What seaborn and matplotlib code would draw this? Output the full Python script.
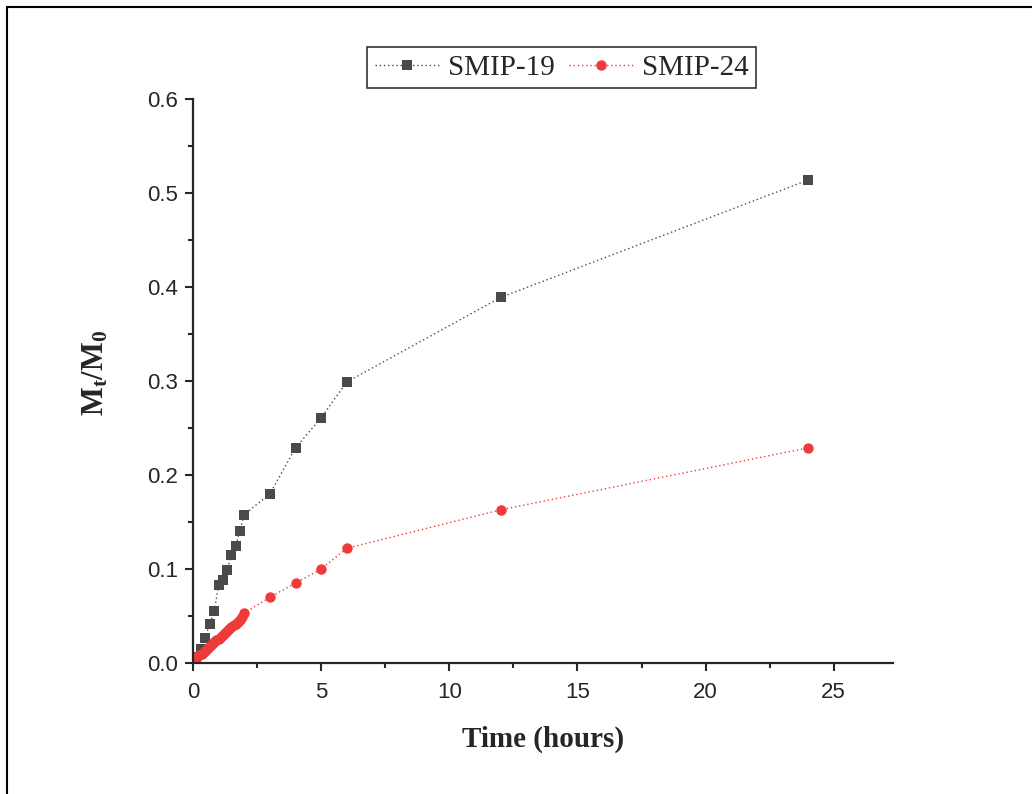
import matplotlib
matplotlib.use("Agg")
import matplotlib.pyplot as plt
import seaborn as sns
import pandas as pd
from matplotlib.ticker import MultipleLocator
from matplotlib.lines import Line2D

# release data
time_19 = [0.1, 0.3, 0.47, 0.65, 0.83, 1.0, 1.17, 1.33, 1.5, 1.67, 1.83, 2, 3, 4, 5, 6, 12, 24]
mt_19 = [0.006, 0.015, 0.027, 0.041, 0.055, 0.083, 0.088, 0.099, 0.115, 0.125, 0.141, 0.158,
         0.180, 0.229, 0.261, 0.299, 0.389, 0.514]

time_24 = [0, 0.083, 0.167, 0.25, 0.333, 0.417, 0.5, 0.583, 0.667, 0.75, 0.833, 0.917, 1.0,
           1.083, 1.167, 1.25, 1.333, 1.417, 1.5, 1.583, 1.667, 1.75, 1.833, 1.917, 2,
           3, 4, 5, 6, 12, 24]
mt_24 = [0.0, 0.003, 0.006, 0.008, 0.010, 0.012, 0.014, 0.016, 0.018, 0.020, 0.022, 0.024, 0.026,
         0.028, 0.030, 0.032, 0.034, 0.036, 0.038, 0.040, 0.042, 0.044, 0.046, 0.049, 0.053,
         0.070, 0.085, 0.100, 0.122, 0.163, 0.229]

series_names = ["SMIP-19", "SMIP-24"]
colors = ["#4a4a4a", "#f03a3a"]

sns.set_style("ticks")
plt.rcParams["font.family"] = ["Liberation Sans", "DejaVu Sans"]
plt.rcParams["mathtext.fontset"] = "custom"
plt.rcParams["mathtext.rm"] = "Liberation Serif"
plt.rcParams["mathtext.bf"] = "Liberation Serif:bold"
plt.rcParams["mathtext.it"] = "Liberation Serif:italic"

df19 = pd.DataFrame({"time": time_19, "mt": mt_19})
df24 = pd.DataFrame({"time": time_24, "mt": mt_24})

fig = plt.figure(figsize=(10.32, 7.94), dpi=100)
ax = fig.add_axes([0.187, 0.165, 0.678, 0.710])

sns.lineplot(data=df19, x="time", y="mt", ax=ax, color=colors[0], marker="s", markersize=7.5,
             markeredgewidth=0, linestyle=(0, (1, 2)), linewidth=1, sort=False)
sns.lineplot(data=df24, x="time", y="mt", ax=ax, color=colors[1], marker="o", markersize=7.5,
             markeredgewidth=0, linestyle=(0, (1, 2)), linewidth=1, sort=False)

ax.set_xlim(0, 27.3)
ax.set_ylim(0, 0.6)
ax.xaxis.set_major_locator(MultipleLocator(5))
ax.xaxis.set_minor_locator(MultipleLocator(2.5))
ax.yaxis.set_major_locator(MultipleLocator(0.1))
ax.yaxis.set_minor_locator(MultipleLocator(0.05))
ax.yaxis.set_major_formatter(matplotlib.ticker.FormatStrFormatter("%.1f"))

for side in ["top", "right"]:
    ax.spines[side].set_visible(False)
for side in ["left", "bottom"]:
    ax.spines[side].set_linewidth(1.6)
ax.tick_params(which="major", direction="out", length=6, width=1.5, labelsize=16)
ax.tick_params(axis="x", which="major", pad=8)
ax.tick_params(axis="y", which="major", pad=5)
ax.tick_params(which="minor", direction="out", length=3.5, width=1.5)

ax.set_xlabel("Time (hours)", fontsize=21, fontweight="bold", family="Liberation Serif", labelpad=16)
ax.set_ylabel(r"$\mathbf{M}_\mathbf{t}\mathbf{/M}_\mathbf{0}$", fontsize=22)
ax.yaxis.set_label_coords(-0.118, 0.515)

handles = [Line2D([], [], color=c, marker=m, markersize=7.5, markeredgewidth=0,
                  linestyle=(0, (1, 2)), linewidth=1)
           for c, m in zip(colors, ["s", "o"])]
leg = ax.legend(handles, series_names, loc="upper center", bbox_to_anchor=(0.527, 1.092), ncol=2,
                frameon=True, fancybox=False, edgecolor="black", handlelength=2.2,
                handletextpad=0.3, columnspacing=0.5, borderpad=0.25, borderaxespad=0,
                numpoints=1, prop={"family": "Liberation Serif", "size": 21})
leg.get_frame().set_linewidth(1.2)

# outer frame of the original figure (top and left edges)
fig.add_artist(Line2D([7 / 1032, 1.0], [1 - 7 / 794, 1 - 7 / 794], color="black", linewidth=1.5,
                      transform=fig.transFigure))
fig.add_artist(Line2D([7 / 1032, 7 / 1032], [0.0, 1 - 7 / 794], color="black", linewidth=1.5,
                      transform=fig.transFigure))

fig.savefig("out.png", dpi=100)
